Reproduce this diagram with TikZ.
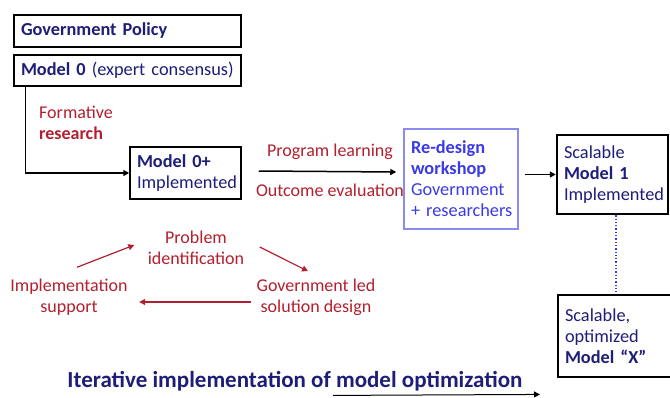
\documentclass[tikz,border=0pt]{standalone}
\usepackage{fontspec}
\setmainfont{Carlito}
\usepackage{xcolor}
\usepackage{tikz}
\usetikzlibrary{arrows.meta}
\definecolor{navy}{HTML}{1E1E78}
\definecolor{darkred}{HTML}{B31F2E}
\definecolor{brightblue}{HTML}{3A3AE6}
\definecolor{paleblue}{HTML}{8A8AF2}
\tikzstyle{box}=[draw=black, line width=1.5pt, fill=white, align=left, inner xsep=7pt, text=navy, font=\fontsize{18.3}{21}\selectfont]
\tikzstyle{label}=[align=center, text=darkred, font=\fontsize{18}{21}\selectfont]
\tikzstyle{black edge}=[-{Triangle[length=6pt,width=6pt]}, line width=1.5pt]
\tikzstyle{red edge}=[-{Triangle[length=6pt,width=6pt]}, draw=darkred, line width=1.2pt]
\tikzstyle{dotted edge}=[-, draw=brightblue, dotted, line width=1.3pt]
\pgfdeclarelayer{nodelayer}
\pgfdeclarelayer{edgelayer}
\pgfsetlayers{edgelayer,nodelayer}
\begin{document}
\begin{tikzpicture}[x=1pt, y=-1pt]
	\useasboundingbox (0,0) rectangle (670,397);
	\begin{pgfonlayer}{nodelayer}
		\node [style=box, minimum width=227, minimum height=32, text width=213] (0) at (127.5, 31) {\textbf{Government Policy}};
		\node [style=box, minimum width=227, minimum height=31, text width=213] (1) at (127.5, 70.5) {\textbf{Model 0} (expert consensus)};
		\node [style=box, minimum width=111, minimum height=52, text width=97] (2) at (185.5, 173) {\textbf{Model 0+}\\Implemented};
		\node [style=box, draw=paleblue, text=brightblue, minimum width=114, minimum height=100, text width=100] (3) at (461, 179) {\textbf{Re-design}\\\textbf{workshop}\\Government\\\mbox{+ researchers}};
		\node [style=box, line width=2.5pt, minimum width=111, minimum height=79, text width=97] (4) at (612.5, 174.5) {Scalable\\\textbf{Model 1}\\Implemented};
		\node [style=box, line width=2pt, minimum width=113, minimum height=82, text width=99] (5) at (614.5, 336) {Scalable,\\optimized\\\textbf{Model ``X''}};
		\node [style=label, align=left] (6) at (76, 123) {Formative\\\textbf{research}};
		\node [style=label] (7) at (330, 152) {Program learning};
		\node [style=label] (8) at (330, 190) {Outcome evaluation};
		\node [style=label] (9) at (196, 248) {Problem\\identification};
		\node [style=label] (10) at (316, 297) {Government led\\solution design};
		\node [style=label] (11) at (69, 297) {Implementation\\support};
		\node [text=navy, font=\fontsize{23}{26}\selectfont\bfseries] (12) at (295, 381) {Iterative implementation of model optimization};
	\end{pgfonlayer}
	\begin{pgfonlayer}{edgelayer}
		\draw [style=black edge] (1.south west) ++(12,0) |- (2.west);
		\draw [style=black edge] ([shift={(17,-2)}]2.east) -- ([shift={(-7,-7)}]3.west);
		\draw [style=black edge] ([xshift=6]3.east |- 4.west) -- (4.west);
		\draw [style=dotted edge] ([xshift=3.5]4.south) -- ([xshift=1.5]5.north);
		\draw [style=red edge] ([shift={(8,-8)}]11.north) -- ([shift={(-10,-3)}]9.west);
		\draw [style=red edge] ([shift={(12,-1)}]9.east) -- ([shift={(-8,-4)}]10.north);
		\draw [style=red edge] ([shift={(-2,5)}]10.west) -- ([shift={(8,5)}]11.east);
		\draw [style=black edge, line width=1pt] ([shift={(38,1)}]12.south) -- ([shift={(245,0)}]12.south);
	\end{pgfonlayer}
\end{tikzpicture}
\end{document}
